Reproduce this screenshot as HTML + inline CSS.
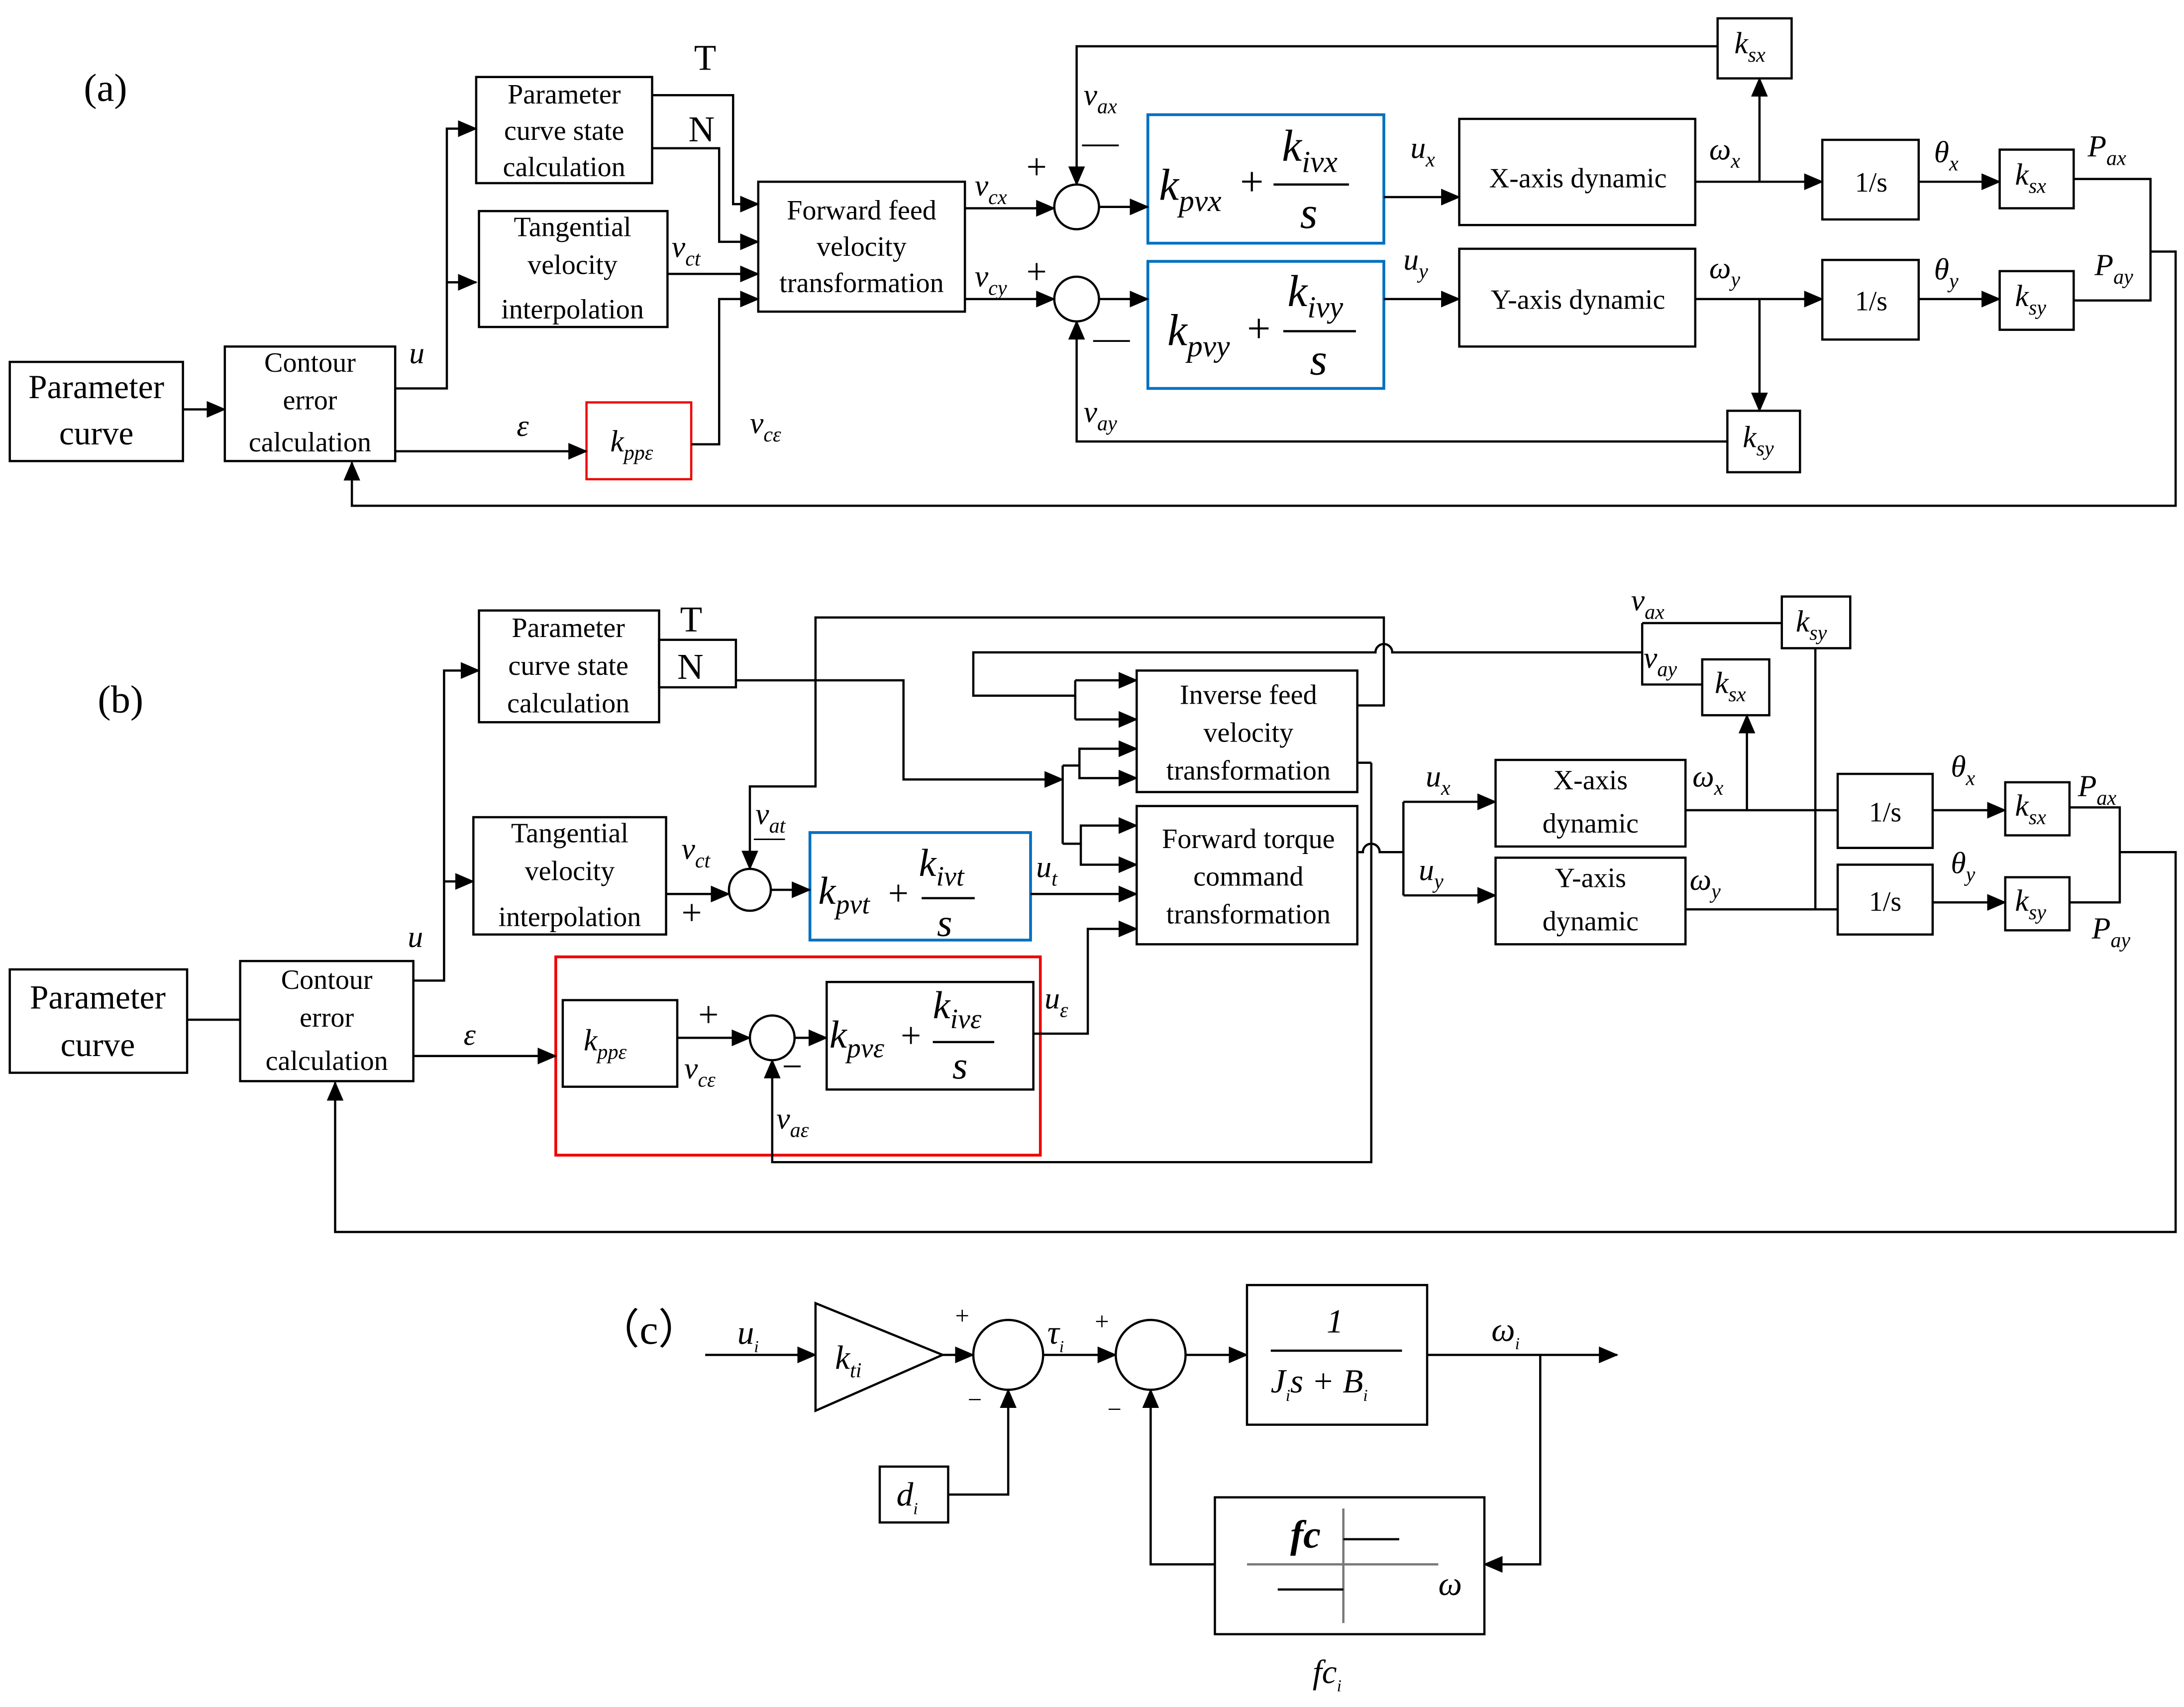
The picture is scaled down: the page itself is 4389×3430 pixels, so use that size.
<!DOCTYPE html>
<html><head><meta charset="utf-8"><style>
html,body{margin:0;padding:0;background:#fff;}
svg{display:block;}
text{font-family:"Liberation Serif",serif;fill:#000;}
.i{font-style:italic;}
</style></head><body>
<svg width="4389" height="3430" viewBox="0 0 1564 1222" xmlns="http://www.w3.org/2000/svg">
<defs>
<marker id="a" markerWidth="14" markerHeight="12" refX="13" refY="6" orient="auto" markerUnits="userSpaceOnUse"><path d="M0,0 L14,6 L0,12 z" fill="#000"/></marker>
</defs>
<g fill="none" stroke="#000" stroke-width="1.6">
<!-- ========== (a) ========== -->
<rect x="7" y="259" width="124" height="71"/>
<rect x="161" y="248" width="122" height="82"/>
<rect x="420" y="288" width="75" height="55" stroke="#e00"/>
<rect x="341" y="55" width="126" height="76"/>
<rect x="343" y="151" width="135" height="83"/>
<rect x="543" y="130" width="148" height="93"/>
<circle cx="771" cy="148" r="16"/>
<circle cx="771" cy="214" r="16"/>
<rect x="822" y="82" width="169" height="92" stroke="#0070c0" stroke-width="2"/>
<rect x="822" y="187" width="169" height="91" stroke="#0070c0" stroke-width="2"/>
<rect x="1045" y="85" width="169" height="76"/>
<rect x="1045" y="178" width="169" height="70"/>
<rect x="1230" y="13" width="53" height="43"/>
<rect x="1237" y="294" width="52" height="44"/>
<rect x="1305" y="100" width="69" height="57"/>
<rect x="1305" y="186" width="69" height="57"/>
<rect x="1432" y="107" width="53" height="42"/>
<rect x="1432" y="194" width="53" height="42"/>
<path d="M131,293 H161" marker-end="url(#a)"/>
<path d="M283,278 H320 V92 H341" marker-end="url(#a)"/>
<path d="M320,202 H341" marker-end="url(#a)"/>
<path d="M283,323 H420" marker-end="url(#a)"/>
<path d="M495,318 H515 V214 H543" marker-end="url(#a)"/>
<path d="M467,68 H525 V146 H543" marker-end="url(#a)"/>
<path d="M467,106 H515 V173 H543" marker-end="url(#a)"/>
<path d="M478,196 H543" marker-end="url(#a)"/>
<path d="M691,149 H755" marker-end="url(#a)"/>
<path d="M691,214 H755" marker-end="url(#a)"/>
<path d="M787,148 H822" marker-end="url(#a)"/>
<path d="M787,214 H822" marker-end="url(#a)"/>
<path d="M991,141 H1045" marker-end="url(#a)"/>
<path d="M991,214 H1045" marker-end="url(#a)"/>
<path d="M1214,130 H1305" marker-end="url(#a)"/>
<path d="M1260,130 V56" marker-end="url(#a)"/>
<path d="M1230,33 H771 V132" marker-end="url(#a)"/>
<path d="M1214,214 H1305" marker-end="url(#a)"/>
<path d="M1260,214 V294" marker-end="url(#a)"/>
<path d="M1237,316 H771 V230" marker-end="url(#a)"/>
<path d="M1374,130 H1432" marker-end="url(#a)"/>
<path d="M1374,214 H1432" marker-end="url(#a)"/>
<path d="M1485,128 H1540 V215 H1485"/>
<path d="M1540,180 H1558 V362 H252 V331" marker-end="url(#a)"/>
<!-- ========== (b) ========== -->
<rect x="7" y="694" width="127" height="74"/>
<rect x="172" y="688" width="124" height="86"/>
<rect x="398" y="685" width="347" height="142" stroke="#e00" stroke-width="2"/>
<rect x="403" y="716" width="82" height="62"/>
<circle cx="553" cy="743" r="16"/>
<rect x="592" y="703" width="148" height="77"/>
<rect x="343" y="437" width="129" height="80"/>
<rect x="472" y="458" width="55" height="34"/>
<rect x="339" y="585" width="138" height="84"/>
<circle cx="537" cy="637" r="15"/>
<rect x="580" y="596" width="158" height="77" stroke="#0070c0" stroke-width="2"/>
<rect x="814" y="480" width="158" height="87"/>
<rect x="814" y="577" width="158" height="99"/>
<rect x="1071" y="544" width="136" height="62"/>
<rect x="1071" y="614" width="136" height="62"/>
<rect x="1219" y="472" width="48" height="40"/>
<rect x="1276" y="427" width="49" height="37"/>
<rect x="1316" y="554" width="68" height="53"/>
<rect x="1316" y="619" width="68" height="50"/>
<rect x="1436" y="560" width="46" height="38"/>
<rect x="1436" y="628" width="46" height="38"/>
<path d="M134,730 H172"/>
<path d="M296,702 H318 V480 H343" marker-end="url(#a)"/>
<path d="M318,631 H339" marker-end="url(#a)"/>
<path d="M296,756 H398" marker-end="url(#a)"/>
<path d="M485,743 H537" marker-end="url(#a)"/>
<path d="M569,743 H592" marker-end="url(#a)"/>
<path d="M740,740 H779 V665 H814" marker-end="url(#a)"/>
<path d="M982,546 V832 H553 V759" marker-end="url(#a)"/>
<path d="M972,546 H982"/>
<path d="M477,640 H522" marker-end="url(#a)"/>
<path d="M552,637 H580" marker-end="url(#a)"/>
<path d="M738,640 H814" marker-end="url(#a)"/>
<path d="M972,505 H991 V442 H584 V563 H537 V622" marker-end="url(#a)"/>
<path d="M1176,446 H1276"/>
<path d="M1176,446 V490 H1219"/>
<path d="M1176,467 H997 A6,6 0 0 0 985,467 H697 V498 H770"/>
<path d="M770,487 V515"/>
<path d="M770,487 H814" marker-end="url(#a)"/>
<path d="M770,515 H814" marker-end="url(#a)"/>
<path d="M527,487 H647 V558 H761" marker-end="url(#a)"/>
<path d="M761,548 V604"/>
<path d="M761,548 H773 V536 H814" marker-end="url(#a)"/>
<path d="M773,548 V557 H814" marker-end="url(#a)"/>
<path d="M761,604 H774 V591 H814" marker-end="url(#a)"/>
<path d="M774,604 V619 H814" marker-end="url(#a)"/>
<path d="M972,610 H976 A6,6 0 0 1 988,610 H1005"/>
<path d="M1005,574 V641"/>
<path d="M1005,574 H1071" marker-end="url(#a)"/>
<path d="M1005,641 H1071" marker-end="url(#a)"/>
<path d="M1207,580 H1316"/>
<path d="M1251,580 V512" marker-end="url(#a)"/>
<path d="M1207,651 H1316"/>
<path d="M1300,464 V651"/>
<path d="M1384,580 H1436" marker-end="url(#a)"/>
<path d="M1384,646 H1436" marker-end="url(#a)"/>
<path d="M1482,578 H1518 V646 H1482"/>
<path d="M1518,610 H1558 V882 H240 V775" marker-end="url(#a)"/>
<!-- ========== (c) ========== -->
<path d="M505,970 H584" marker-end="url(#a)"/>
<path d="M584,933 L675,970 L584,1010 Z"/>
<path d="M675,970 H697" marker-end="url(#a)"/>
<circle cx="722" cy="970" r="25"/>
<path d="M747,970 H799" marker-end="url(#a)"/>
<circle cx="824" cy="970" r="25"/>
<rect x="630" y="1050" width="49" height="40"/>
<path d="M679,1070 H722 V995" marker-end="url(#a)"/>
<path d="M849,970 H893" marker-end="url(#a)"/>
<rect x="893" y="920" width="129" height="100"/>
<path d="M1022,970 H1158" marker-end="url(#a)"/>
<path d="M1103,970 V1120 H1063" marker-end="url(#a)"/>
<rect x="870" y="1072" width="193" height="98"/>
<path d="M870,1120 H824 V995" marker-end="url(#a)"/>
<path d="M893,1120 H1030" stroke="#777"/>
<path d="M962,1080 V1162" stroke="#777"/>
<path d="M962,1102 H1002 M915,1138 H962"/>
<path d="M910,967 H1004"/>
</g>
<!-- fraction bars -->
<g stroke="#000" stroke-width="1.6">
<path d="M912,132 H966"/><path d="M919,237 H971"/>
<path d="M660,643 H698"/><path d="M668,746 H712"/>
</g>
<!-- ===== text (a) ===== -->
<text x="60" y="72" font-size="28">(a)</text>
<g font-size="24" text-anchor="middle"><text x="69" y="285">Parameter</text><text x="69" y="318">curve</text></g>
<g font-size="20" text-anchor="middle">
<text x="222" y="266">Contour</text><text x="222" y="293">error</text><text x="222" y="323">calculation</text>
<text x="404" y="74">Parameter</text><text x="404" y="100">curve state</text><text x="404" y="126">calculation</text>
<text x="410" y="169">Tangential</text><text x="410" y="196">velocity</text><text x="410" y="228">interpolation</text>
<text x="617" y="157">Forward feed</text><text x="617" y="183">velocity</text><text x="617" y="209">transformation</text>
<text x="1130" y="134">X-axis dynamic</text><text x="1130" y="221">Y-axis dynamic</text>
<text x="1340" y="137">1/s</text><text x="1340" y="222">1/s</text>
</g>
<g font-size="26"><text x="497" y="50">T</text><text x="493" y="101">N</text><text x="735" y="128">+</text><text x="735" y="203">+</text><text x="775" y="110">—</text><text x="783" y="250">—</text></g>
<g class="i" font-size="22">
<text x="293" y="260">u</text><text x="370" y="312">ε</text>
<text x="437" y="323">k<tspan font-size="15" dy="6">ppε</tspan></text>
<text x="537" y="310">v<tspan font-size="15" dy="6">cε</tspan></text>
<text x="481" y="184">v<tspan font-size="15" dy="6">ct</tspan></text>
<text x="698" y="140">v<tspan font-size="15" dy="6">cx</tspan></text>
<text x="698" y="205">v<tspan font-size="15" dy="6">cy</tspan></text>
<text x="776" y="75">v<tspan font-size="15" dy="6">ax</tspan></text>
<text x="776" y="302">v<tspan font-size="15" dy="6">ay</tspan></text>
<text x="1010" y="113">u<tspan font-size="15" dy="6">x</tspan></text>
<text x="1005" y="193">u<tspan font-size="15" dy="6">y</tspan></text>
<text x="1224" y="114">ω<tspan font-size="15" dy="6">x</tspan></text>
<text x="1224" y="199">ω<tspan font-size="15" dy="6">y</tspan></text>
<text x="1385" y="116">θ<tspan font-size="15" dy="6">x</tspan></text>
<text x="1385" y="200">θ<tspan font-size="15" dy="6">y</tspan></text>
<text x="1495" y="112">P<tspan font-size="15" dy="6">ax</tspan></text>
<text x="1500" y="197">P<tspan font-size="15" dy="6">ay</tspan></text>
<text x="1242" y="38">k<tspan font-size="15" dy="6">sx</tspan></text>
<text x="1248" y="320">k<tspan font-size="15" dy="6">sy</tspan></text>
<text x="1443" y="132">k<tspan font-size="15" dy="6">sx</tspan></text>
<text x="1443" y="219">k<tspan font-size="15" dy="6">sy</tspan></text>
</g>
<g class="i" font-size="32">
<text x="830" y="143">k<tspan font-size="22" dy="8">pvx</tspan></text>
<text x="918" y="115">k<tspan font-size="22" dy="8">ivx</tspan></text>
<text x="931" y="163">s</text>
<text x="836" y="247">k<tspan font-size="22" dy="8">pvy</tspan></text>
<text x="922" y="219">k<tspan font-size="22" dy="8">ivy</tspan></text>
<text x="938" y="268">s</text>
</g>
<g font-size="30"><text x="888" y="140">+</text><text x="893" y="245">+</text></g>
<!-- ===== text (b) ===== -->
<text x="70" y="510" font-size="28">(b)</text>
<g font-size="24" text-anchor="middle"><text x="70" y="722">Parameter</text><text x="70" y="756">curve</text></g>
<g font-size="20" text-anchor="middle">
<text x="234" y="708">Contour</text><text x="234" y="735">error</text><text x="234" y="766">calculation</text>
<text x="407" y="456">Parameter</text><text x="407" y="483">curve state</text><text x="407" y="510">calculation</text>
<text x="408" y="603">Tangential</text><text x="408" y="630">velocity</text><text x="408" y="663">interpolation</text>
<text x="894" y="504">Inverse feed</text><text x="894" y="531">velocity</text><text x="894" y="558">transformation</text>
<text x="894" y="607">Forward torque</text><text x="894" y="634">command</text><text x="894" y="661">transformation</text>
<text x="1139" y="565">X-axis</text><text x="1139" y="596">dynamic</text>
<text x="1139" y="635">Y-axis</text><text x="1139" y="666">dynamic</text>
<text x="1350" y="588">1/s</text><text x="1350" y="652">1/s</text>
</g>
<g font-size="26"><text x="487" y="452">T</text><text x="485" y="486">N</text><text x="500" y="735">+</text><text x="488" y="662">+</text><text x="560" y="772">−</text></g>
<text x="540" y="606" font-size="22">—</text>
<g class="i" font-size="22">
<text x="292" y="678">u</text><text x="332" y="748">ε</text>
<text x="418" y="752">k<tspan font-size="15" dy="6">ppε</tspan></text>
<text x="490" y="772">v<tspan font-size="15" dy="6">cε</tspan></text>
<text x="556" y="808">v<tspan font-size="15" dy="6">aε</tspan></text>
<text x="748" y="722">u<tspan font-size="15" dy="6">ε</tspan></text>
<text x="488" y="615">v<tspan font-size="15" dy="6">ct</tspan></text>
<text x="541" y="590">v<tspan font-size="15" dy="6">at</tspan></text>
<text x="742" y="628">u<tspan font-size="15" dy="6">t</tspan></text>
<text x="1021" y="563">u<tspan font-size="15" dy="6">x</tspan></text>
<text x="1016" y="630">u<tspan font-size="15" dy="6">y</tspan></text>
<text x="1212" y="563">ω<tspan font-size="15" dy="6">x</tspan></text>
<text x="1210" y="637">ω<tspan font-size="15" dy="6">y</tspan></text>
<text x="1397" y="556">θ<tspan font-size="15" dy="6">x</tspan></text>
<text x="1397" y="625">θ<tspan font-size="15" dy="6">y</tspan></text>
<text x="1488" y="570">P<tspan font-size="15" dy="6">ax</tspan></text>
<text x="1498" y="672">P<tspan font-size="15" dy="6">ay</tspan></text>
<text x="1168" y="437">v<tspan font-size="15" dy="6">ax</tspan></text>
<text x="1177" y="478">v<tspan font-size="15" dy="6">ay</tspan></text>
<text x="1286" y="452">k<tspan font-size="15" dy="6">sy</tspan></text>
<text x="1228" y="496">k<tspan font-size="15" dy="6">sx</tspan></text>
<text x="1443" y="584">k<tspan font-size="15" dy="6">sx</tspan></text>
<text x="1443" y="652">k<tspan font-size="15" dy="6">sy</tspan></text>
</g>
<g class="i" font-size="28">
<text x="586" y="647">k<tspan font-size="20" dy="7">pvt</tspan></text>
<text x="658" y="627">k<tspan font-size="20" dy="7">ivt</tspan></text>
<text x="671" y="670">s</text>
<text x="594" y="750">k<tspan font-size="20" dy="7">pvε</tspan></text>
<text x="668" y="729">k<tspan font-size="20" dy="7">ivε</tspan></text>
<text x="682" y="772">s</text>
</g>
<g font-size="26"><text x="636" y="648">+</text><text x="645" y="750">+</text></g>
<!-- ===== text (c) ===== -->
<text x="428" y="962" font-size="30" font-family="Liberation Serif,'Noto Serif CJK SC',serif">（c）</text>
<g class="i" font-size="24">
<text x="528" y="962">u<tspan font-size="12" dy="6">i</tspan></text>
<text x="598" y="980">k<tspan font-size="15" dy="6">ti</tspan></text>
<text x="750" y="962">τ<tspan font-size="12" dy="6">i</tspan></text>
<text x="642" y="1078">d<tspan font-size="12" dy="6">i</tspan></text>
<text x="1068" y="960">ω<tspan font-size="12" dy="6">i</tspan></text>
<text x="950" y="954">1</text>
<text x="910" y="997">J<tspan font-size="12" dy="6">i</tspan><tspan dy="-6">s + B</tspan><tspan font-size="12" dy="6">i</tspan></text>
<text x="1030" y="1142">ω</text>
<text x="940" y="1205">fc<tspan font-size="12" dy="6">i</tspan></text>
</g>
<text x="924" y="1108" font-size="28" class="i" font-weight="bold">fc</text>
<g font-size="18"><text x="684" y="948">+</text><text x="693" y="1008">−</text><text x="784" y="952">+</text><text x="793" y="1015">−</text></g>
</svg>
</body></html>
